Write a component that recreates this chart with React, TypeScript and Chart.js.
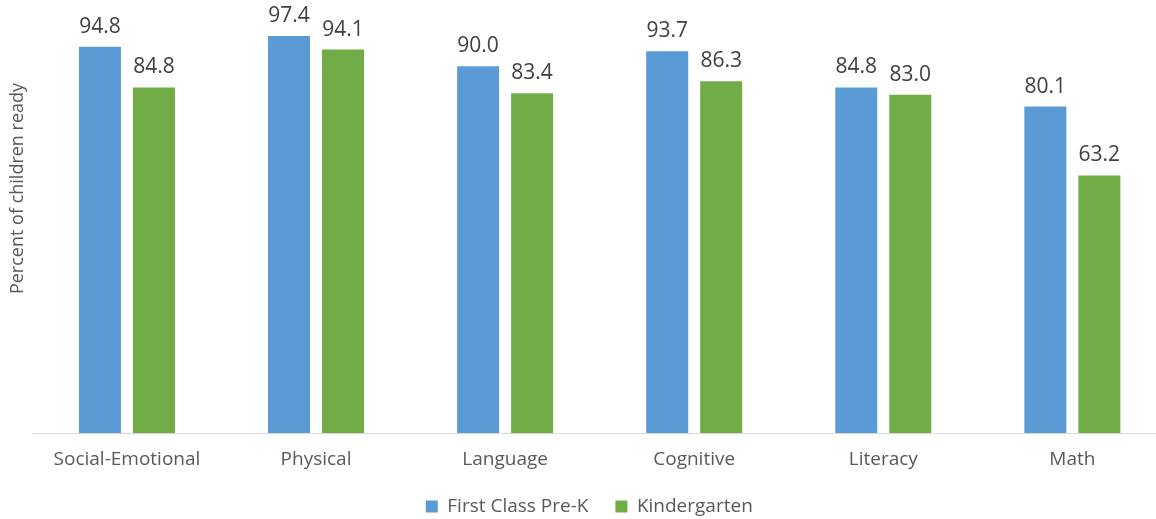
import React, { useEffect, useRef } from "react";
import { Chart, registerables } from "chart.js";

Chart.register(...registerables);

const categories = ["Social-Emotional", "Physical", "Language", "Cognitive", "Literacy", "Math"];
const preKValues = [94.8, 97.4, 90.0, 93.7, 84.8, 80.1];
const kinderValues = [84.8, 94.1, 83.4, 86.3, 83.0, 63.2];
const seriesNames = ["First Class Pre-K", "Kindergarten"];
const seriesColors = ["#5B9BD5", "#70AD47"];
const yAxisTitle = "Percent of children ready";

const FONT = "'Open Sans', 'Noto Sans', sans-serif";

const dataLabelPlugin = {
  id: "dataLabels",
  afterDatasetsDraw(chart: any) {
    const ctx = chart.ctx;
    ctx.save();
    ctx.font = `21px ${FONT}`;
    ctx.fillStyle = "#404040";
    ctx.textAlign = "center";
    ctx.textBaseline = "alphabetic";
    chart.data.datasets.forEach((ds: any, i: number) => {
      const meta = chart.getDatasetMeta(i);
      meta.data.forEach((el: any, j: number) => {
        const v = ds.data[j];
        ctx.fillText(Number(v).toFixed(1), el.x, el.y - 14);
      });
    });
    ctx.restore();
  },
};

export default function App() {
  const ref = useRef<HTMLCanvasElement | null>(null);

  useEffect(() => {
    if (!ref.current) return;
    const chart = new Chart(ref.current, {
      type: "bar",
      data: {
        labels: categories,
        datasets: [
          {
            label: seriesNames[0],
            data: preKValues,
            backgroundColor: seriesColors[0],
            borderWidth: 0,
            categoryPercentage: 0.5712,
            barPercentage: 0.7778,
          },
          {
            label: seriesNames[1],
            data: kinderValues,
            backgroundColor: seriesColors[1],
            borderWidth: 0,
            categoryPercentage: 0.5712,
            barPercentage: 0.7778,
          },
        ],
      },
      options: {
        responsive: false,
        maintainAspectRatio: false,
        animation: false,
        layout: { padding: { left: 11.7, right: 3.1, top: 14, bottom: 0 } },
        plugins: {
          tooltip: { enabled: false },
          legend: {
            position: "bottom",
            labels: {
              boxWidth: 12,
              boxHeight: 12,
              padding: 27,
              color: "#595959",
              font: { family: FONT, size: 19 },
            },
          },
        },
        scales: {
          x: {
            grid: { display: false, drawTicks: false },
            border: { display: true, color: "#d9d9d9", width: 1 },
            ticks: {
              color: "#595959",
              font: { family: FONT, size: 19 },
              padding: 15.6,
              maxRotation: 0,
            },
            afterFit: (s: any) => {
              s.height = 37;
            },
          },
          y: {
            min: 0,
            max: 120,
            grid: { display: false },
            border: { display: false },
            ticks: { display: false },
            title: {
              display: true,
              text: yAxisTitle,
              color: "#595959",
              font: { family: FONT, size: 18 },
              padding: { top: -4.5, bottom: 0 },
            },
            afterFit: (s: any) => {
              s.width = 20.7;
            },
          },
        },
      },
      plugins: [dataLabelPlugin],
    } as any);
    return () => chart.destroy();
  }, []);

  return (
    <div
      style={{
        position: "absolute",
        left: 0,
        top: 0,
        width: 1156,
        height: 519,
        overflow: "hidden",
        background: "#ffffff",
      }}
    >
      <canvas
        ref={ref}
        width={1170}
        height={596}
        style={{ position: "absolute", left: 0, top: -70, width: 1170, height: 596 }}
      />
    </div>
  );
}
